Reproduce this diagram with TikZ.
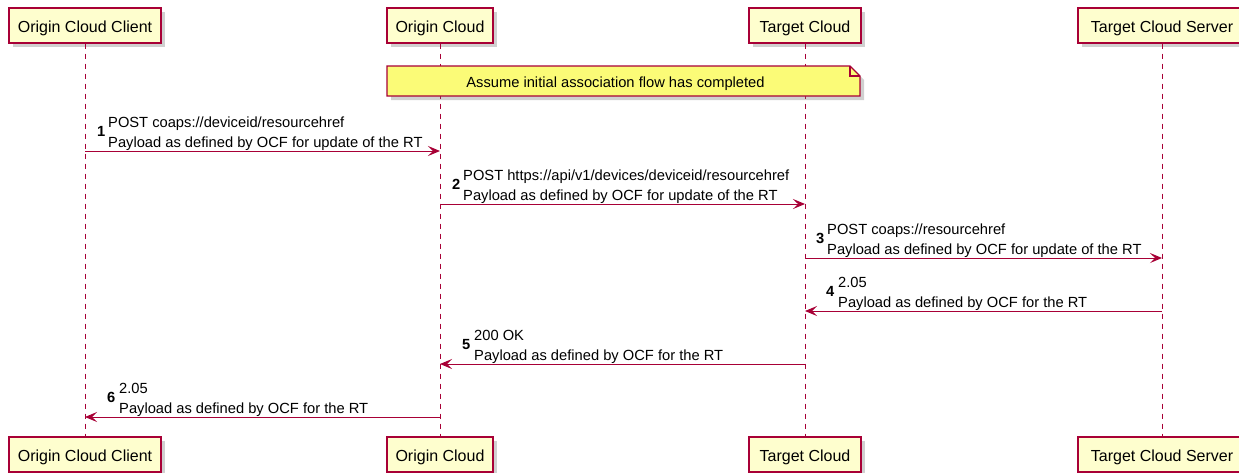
\documentclass[tikz,border=0pt]{standalone}
\usepackage{fontspec}
\setmainfont{Liberation Sans}
\usetikzlibrary{arrows.meta,shadows}
\definecolor{crim}{HTML}{A80036}
\definecolor{pfill}{HTML}{FEFECE}
\definecolor{nfill}{HTML}{FBFB77}
\begin{document}
\begin{tikzpicture}[x=1pt,y=-1pt,
  participant/.style={draw=crim, fill=pfill, line width=1.3pt, minimum height=35pt, inner sep=0pt,
    text height=13pt, text depth=0pt,
    font=\fontsize{16}{19}\selectfont,
    drop shadow={shadow xshift=4pt, shadow yshift=-4pt, opacity=0.3, fill=black!60}},
  lifeline/.style={draw=crim, line width=1pt, dash pattern=on 5pt off 5pt},
  msg/.style={draw=crim, line width=1pt, -{Stealth[length=12pt,width=10pt,inset=5pt]}},
  msgtext/.style={anchor=south west, inner sep=0pt, align=left, font=\fontsize{14.7}{19.5}\selectfont},
  msgnum/.style={anchor=base west, inner sep=0pt, font=\bfseries\fontsize{14.7}{16}\selectfont},
  notetext/.style={anchor=base, inner sep=0pt, font=\fontsize{14.7}{16}\selectfont}]
\useasboundingbox (0,0) rectangle (1239,472);
\fill[white] (0,0) rectangle (1239,472);

% participants
\node[participant, minimum width=152pt] (occt) at (85,25.5) {Origin Cloud Client};
\node[participant, minimum width=106pt] (oct) at (440,25.5) {Origin Cloud};
\node[participant, minimum width=112pt] (tct) at (805,25.5) {Target Cloud};
\node[participant, minimum width=168pt] (tcst) at (1162,25.5) {Target Cloud Server};
\node[participant, minimum width=152pt] (occb) at (85,454.5) {Origin Cloud Client};
\node[participant, minimum width=106pt] (ocb) at (440,454.5) {Origin Cloud};
\node[participant, minimum width=112pt] (tcb) at (805,454.5) {Target Cloud};
\node[participant, minimum width=168pt] (tcsb) at (1162,454.5) {Target Cloud Server};

% lifelines
\draw[lifeline] (occt.south) -- (occb.north);
\draw[lifeline] (oct.south) -- (ocb.north);
\draw[lifeline] (tct.south) -- (tcb.north);
\draw[lifeline] (tcst.south) -- (tcsb.north);

% note
\fill[black!60, opacity=0.3] (391,70) -- (854,70) -- (864,80) -- (864,100) -- (391,100) -- cycle;
\filldraw[draw=crim, fill=nfill, line width=1.2pt] (387,66) -- (850,66) -- (860,76) -- (860,96) -- (387,96) -- cycle;
\draw[crim, line width=1.2pt] (850,66) -- (850,76) -- (860,76);
\node[notetext] (note) at (615.5,87) {Assume initial association flow has completed};

% message rows
\coordinate (y1) at (0,151);
\coordinate (y2) at (0,204);
\coordinate (y3) at (0,258);
\coordinate (y4) at (0,311);
\coordinate (y5) at (0,364);
\coordinate (y6) at (0,417);

\draw[msg] (occt |- y1) -- (oct |- y1);
\node[msgnum] (n1) at (97,136) {1};
\node[msgtext] (t1) at (108,150.5) {POST coaps://deviceid/resourcehref\\Payload as defined by OCF for update of the RT};

\draw[msg] (oct |- y2) -- (tct |- y2);
\node[msgnum] (n2) at (452,189) {2};
\node[msgtext] (t2) at (463,203.5) {POST https://api/v1/devices/deviceid/resourcehref\\Payload as defined by OCF for update of the RT};

\draw[msg] (tct |- y3) -- (tcst |- y3);
\node[msgnum] (n3) at (816,243) {3};
\node[msgtext] (t3) at (827,257.5) {POST coaps://resourcehref\\Payload as defined by OCF for update of the RT};

\draw[msg] (tcst |- y4) -- (tct |- y4);
\node[msgnum] (n4) at (826,296) {4};
\node[msgtext] (t4) at (838,310.5) {2.05\\Payload as defined by OCF for the RT};

\draw[msg] (tct |- y5) -- (oct |- y5);
\node[msgnum] (n5) at (462,349) {5};
\node[msgtext] (t5) at (474,363.5) {200 OK\\Payload as defined by OCF for the RT};

\draw[msg] (oct |- y6) -- (occt |- y6);
\node[msgnum] (n6) at (107,402) {6};
\node[msgtext] (t6) at (119,416.5) {2.05\\Payload as defined by OCF for the RT};
\end{tikzpicture}
\end{document}
